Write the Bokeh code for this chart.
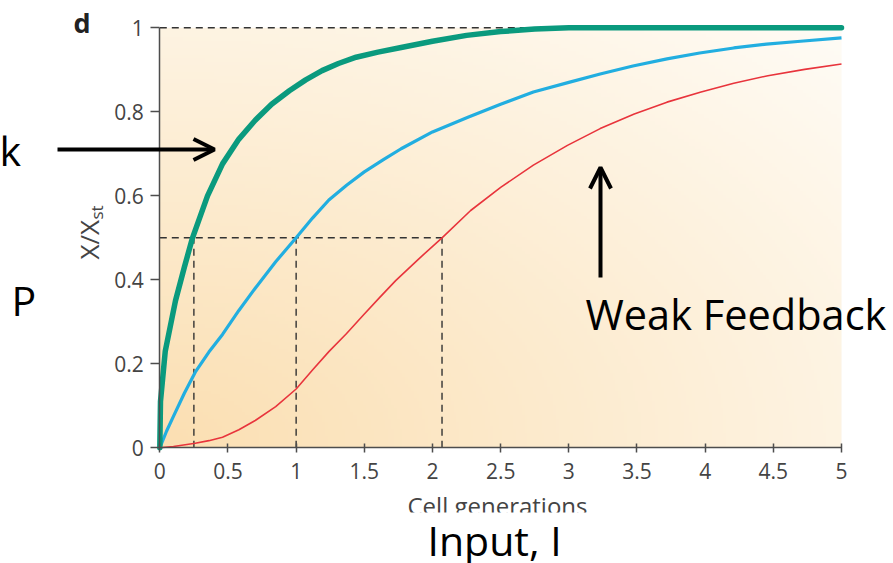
import numpy as np
from bokeh.plotting import figure
from bokeh.models import Range1d, FixedTicker, NumeralTickFormatter, Arrow, OpenHead
from bokeh.core.properties import value
from bokeh.embed import file_html
from bokeh.resources import INLINE

# ---------------- data ----------------
green_x = [0, 0.005, 0.04, 0.115, 0.18, 0.24, 0.35, 0.46, 0.58, 0.70, 0.82, 0.95, 1.07, 1.19, 1.31,
           1.44, 1.60, 1.77, 2.0, 2.25, 2.5, 2.75, 3.0, 4.0, 5.0]
green_y = [0, 0.11, 0.23, 0.35, 0.43, 0.50, 0.60, 0.676, 0.735, 0.78, 0.818, 0.85, 0.876, 0.898, 0.915,
           0.93, 0.942, 0.953, 0.968, 0.982, 0.991, 0.997, 1.0, 1.0, 1.0]

blue_x = [0, 0.05, 0.1, 0.18, 0.26, 0.36, 0.46, 0.58, 0.70, 0.85, 1.0, 1.12, 1.24, 1.37, 1.5, 1.64, 1.77,
          2.0, 2.26, 2.5, 2.74, 3.0, 3.23, 3.47, 3.72, 3.96, 4.21, 4.45, 4.70, 5.0]
blue_y = [0, 0.04, 0.075, 0.13, 0.18, 0.228, 0.27, 0.327, 0.38, 0.443, 0.50, 0.547, 0.59, 0.625, 0.657,
          0.686, 0.712, 0.752, 0.787, 0.818, 0.847, 0.870, 0.89, 0.909, 0.926, 0.94, 0.952, 0.961, 0.968, 0.976]

red_x = [0, 0.1, 0.26, 0.36, 0.46, 0.58, 0.70, 0.85, 1.0, 1.12, 1.24, 1.37, 1.49, 1.61, 1.73, 1.9, 2.07,
         2.28, 2.50, 2.74, 2.99, 3.23, 3.48, 3.72, 3.97, 4.21, 4.46, 4.73, 5.0]
red_y = [0, 0.003, 0.011, 0.017, 0.025, 0.043, 0.065, 0.098, 0.14, 0.185, 0.229, 0.272, 0.315, 0.357,
         0.398, 0.45, 0.50, 0.565, 0.62, 0.673, 0.72, 0.76, 0.795, 0.823, 0.847, 0.868, 0.886, 0.901, 0.914]

half_times = [0.25, 1.0, 2.07]   # x where each curve reaches half of steady state
half_level = 0.5
steady_level = 1.0

x_ticks = [0, 0.5, 1, 1.5, 2, 2.5, 3, 3.5, 4, 4.5, 5]
y_ticks = [0, 0.2, 0.4, 0.6, 0.8, 1]

x_title = "Cell generations"
y_title_main = "X/X"
y_title_sub = "st"

# ---------------- canvas mapping (pixel layout of the picture) ----------------
W, H = 893, 563
X0PX, Y0PX = 159.3, 447.3       # pixel of data (0, 0)
SX, SY = 136.34, 420.0          # pixels per data unit


def px2x(px):
    return (px - X0PX) / SX


def py2y(py):
    return (Y0PX - py) / SY


FONT = "Open Sans"
MID = 0.388   # distance from text middle to alphabetic baseline, in em (Open Sans)

p = figure(width=W, height=H, title=None,
           x_range=Range1d(px2x(0), px2x(W)), y_range=Range1d(py2y(H), py2y(0)),
           output_backend="svg", toolbar_location=None, min_border=0)
p.grid.visible = False
p.outline_line_color = None
p.background_fill_color = "white"
p.border_fill_color = "white"

# background gradient of the plotting area (styling only)
GW, GH = 240, 120
gx = np.linspace(0, 1, GW)[None, :]
gy = np.linspace(0, 1, GH)[:, None]
t = np.clip(np.sqrt(gx ** 2 + gy ** 2) / np.sqrt(2), 0, 1)
c0 = np.array([251, 223, 178], dtype=float)
c1 = np.array([255, 252, 246], dtype=float)
img = np.empty((GH, GW), dtype=np.uint32)
view = img.view(dtype=np.uint8).reshape((GH, GW, 4))
for k in range(3):
    view[:, :, k] = (c0[k] + (c1[k] - c0[k]) * t).astype(np.uint8)
view[:, :, 3] = 255
p.image_rgba(image=[img], x=0, y=0, dw=5, dh=1)

# dashed guides
dash_col = "#333333"
p.line([0, 5], [steady_level, steady_level], line_color=dash_col, line_width=1.4, line_dash="7 5")
p.line([0, max(half_times)], [half_level, half_level], line_color=dash_col, line_width=1.4, line_dash="7 5")
p.segment(x0=half_times, y0=[0] * len(half_times), x1=half_times, y1=[half_level] * len(half_times),
          line_color=dash_col, line_width=1.4, line_dash="7 5")

# curves
p.line(red_x, red_y, line_color="#e8343c", line_width=1.6, line_join="round")
p.line(blue_x, blue_y, line_color="#22aee0", line_width=3.2, line_join="round")
p.line(green_x, green_y, line_color="#0a9a7e", line_width=5.5, line_join="round", line_cap="round")

# axes, drawn through the origin
for ax in (p.xaxis[0], p.yaxis[0]):
    ax.fixed_location = 0
    ax.axis_line_color = "#4d4d4d"
    ax.axis_line_width = 1.5
    ax.major_tick_line_color = "#4d4d4d"
    ax.major_tick_line_width = 1.5
    ax.minor_tick_line_color = None
    ax.major_label_text_font = FONT
    ax.major_label_text_font_size = "21px"
    ax.major_label_text_color = "#444444"
    ax.formatter = NumeralTickFormatter(format="0.[0]")

p.xaxis.ticker = FixedTicker(ticks=x_ticks)
p.yaxis.ticker = FixedTicker(ticks=y_ticks)
p.xaxis.major_tick_in = 4
p.xaxis.major_tick_out = 5
p.xaxis.major_label_standoff = 10
p.yaxis.major_tick_in = 0
p.yaxis.major_tick_out = 9
p.yaxis.major_label_standoff = 7
p.yaxis.bounds = (0, 1)
p.xaxis.bounds = (0, 5)


def txt(px, py_base, s, size, color="black", align="left", rotated=False, style="normal"):
    """Place text so that its alphabetic baseline lies at the given pixel."""
    shift = MID * size
    if rotated:
        ax_, ay_, ang = px - shift, py_base, np.pi / 2
    else:
        ax_, ay_, ang = px, py_base - shift, 0.0
    p.text(x=[px2x(ax_)], y=[py2y(ay_)], text=[s], text_font=value(FONT),
           text_font_size=value(f"{size}px"), text_color=color, text_align=align,
           text_baseline="middle", angle=ang, text_font_style=style)


# axis titles
txt(497, 514, x_title, 24, color="#444444", align="center")
txt(99, 259, y_title_main, 26, color="#444444", rotated=True)
txt(103, 219, y_title_sub, 17, color="#444444", rotated=True)

# the source picture is cut just under the x title
p.quad(left=[px2x(380)], right=[px2x(620)], top=[py2y(512)], bottom=[py2y(524)],
       fill_color="white", line_color=None)

# panel letter
txt(73, 32, "d", 27, color="#222222", style="bold")

# overlay texts
txt(-1, 165, "k", 41)
txt(11, 315, "P", 41)
txt(585, 330, "Weak Feedback", 41.5)
txt(427, 555, "Input, I", 41)

# arrows
p.add_layout(Arrow(end=OpenHead(size=21, line_width=4, line_color="black"),
                   x_start=px2x(57), y_start=py2y(149), x_end=px2x(214), y_end=py2y(149),
                   line_width=4, line_color="black"))
p.add_layout(Arrow(end=OpenHead(size=21, line_width=4, line_color="black"),
                   x_start=px2x(600), y_start=py2y(277), x_end=px2x(600), y_end=py2y(167),
                   line_width=4, line_color="black"))

open("out.html", "w").write(file_html(p, INLINE))
